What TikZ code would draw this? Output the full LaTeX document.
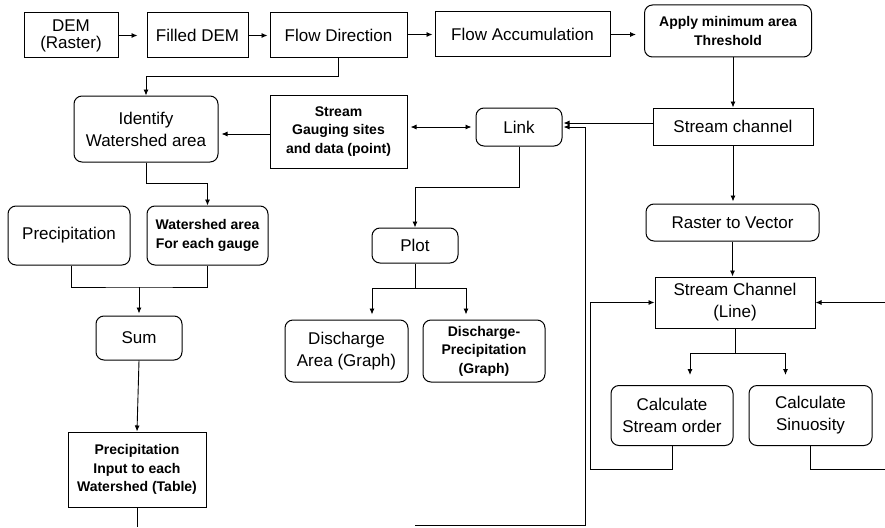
\documentclass[tikz,border=0pt]{standalone}
\usepackage{fontspec}
\setmainfont{Liberation Sans}
\usetikzlibrary{arrows.meta}

\begin{document}
\begin{tikzpicture}[x=1pt,y=-1pt,
  box/.style={draw, line width=1pt, inner sep=0pt, align=center,
    font=\fontsize{17}{22}\selectfont},
  rbox/.style={box, rounded corners=8pt},
  heavy/.style={font=\bfseries\fontsize{14}{18.5}\selectfont},
  link/.style={draw, line width=0.9pt},
  arr/.style={link, -{Latex[length=6pt,width=5pt]}},
  darr/.style={link, {Latex[length=6pt,width=5pt]}-{Latex[length=6pt,width=5pt]}}
]
\useasboundingbox (0,0) rectangle (885,527);

% top row
\node[box, minimum width=94pt, minimum height=45pt] (dem) at (71,35.5) {DEM\\[-5pt](Raster)};
\node[box, minimum width=101pt, minimum height=45pt] (filled) at (197.5,35.5) {Filled DEM};
\node[box, minimum width=137pt, minimum height=45pt] (flowdir) at (338.5,35.5) {Flow Direction};
\node[box, minimum width=175pt, minimum height=45pt] (flowacc) at (522.5,34.5) {Flow Accumulation};
\node[rbox, heavy, minimum width=167pt, minimum height=52pt] (apply) at (728,31) {Apply minimum area\\Threshold};

% second row
\node[rbox, minimum width=144pt, minimum height=66pt] (identify) at (146,129) {Identify\\Watershed area};
\node[box, heavy, minimum width=137pt, minimum height=73pt] (gauge) at (338.5,131.5) {Stream\\Gauging sites\\and data (point)};
\node[rbox, minimum width=86pt, minimum height=38pt] (lnk) at (519,127) {Link};
\node[box, minimum width=160pt, minimum height=37pt] (schan) at (733,126.5) {Stream channel};

% left branch
\node[rbox, minimum width=122pt, minimum height=59pt] (precip) at (69,235.5) {Precipitation};
\node[rbox, heavy, minimum width=121pt, minimum height=59pt] (wsarea) at (207.5,235.5) {Watershed area\\For each gauge};
\node[rbox, minimum width=86pt, minimum height=44pt] (sum) at (139,338) {Sum};
\node[box, heavy, minimum width=138pt, minimum height=75pt] (table) at (137,469.5) {Precipitation\\Input to each\\Watershed (Table)};

% middle branch
\node[rbox, minimum width=86pt, minimum height=35pt] (plot) at (415,245.5) {Plot};
\node[rbox, minimum width=123pt, minimum height=62pt] (darea) at (346.5,351) {Discharge\\Area (Graph)};
\node[rbox, heavy, minimum width=122pt, minimum height=62pt] (dprecip) at (484,351) {Discharge-\\Precipitation\\(Graph)};

% right branch
\node[rbox, minimum width=173pt, minimum height=37pt] (r2v) at (732.5,222.5) {Raster to Vector};
\node[box, minimum width=160pt, minimum height=51pt] (sline) at (735,302.5) {Stream Channel\\(Line)};
\node[rbox, minimum width=122pt, minimum height=60pt] (sorder) at (672,415.5) {Calculate\\Stream order};
\node[rbox, minimum width=123pt, minimum height=60pt] (sinu) at (810.5,415.5) {Calculate\\Sinuosity};

% junction points of the routed connectors
\coordinate (pj) at (415,288);
\coordinate (sj) at (139,287);
\coordinate (tb) at (137,527);
\coordinate (lb) at (415,525);
\coordinate (lc) at (585,525);
\coordinate (ol) at (590,469);
\coordinate (sr) at (885,469);
\coordinate (sr2) at (885,302.5);

% top row chain
\draw[arr, shorten >=9pt] (dem) -- (filled);
\draw[arr, shorten >=2pt] (filled) -- (flowdir);
\draw[arr, shorten >=2pt] (flowdir.east |- flowacc.west) -- (flowacc.west);
\draw[arr, shorten >=8pt] (flowacc.east) -- (flowacc.east -| apply.west);

% flow direction to watershed identification
\draw[arr] (flowdir.south) -- ++(0,18) -| (identify.north);
\draw[arr, shorten >=3pt] ([yshift=-2.5pt]gauge.west) -- ([yshift=-2.5pt]gauge.west -| identify.east);
\draw[darr, shorten <=3pt, shorten >=4pt] ([yshift=4.5pt]gauge.east) -- ([yshift=4.5pt]gauge.east -| lnk.west);

% stream channel and returning loop into Link
\draw[arr, shorten >=1pt] ([yshift=3.5pt]schan.west) -- ([yshift=3.5pt]schan.west -| lnk.east);
\draw[arr, shorten >=1pt] (lb) -- (lc) |- (lnk.east);
\draw[link] (table.south) -- (tb);

% Link to Plot and its outputs
\draw[arr] (lnk.south) -- ++(0,41) -| (plot.north);
\draw[link] (plot.south) -- (pj);
\draw[arr, shorten >=5pt] (pj) -| ([xshift=25.5pt]darea.north);
\draw[arr, shorten >=5pt] (pj) -| ([xshift=-18pt]dprecip.north);

% watershed area and precipitation summation
\draw[arr] (identify.south) -- ++(0,21) -| (wsarea.north);
\draw[link] ([xshift=2pt]precip.south) |- (sj) -| (wsarea.south);
\draw[arr, shorten >=2pt] (sj) -- (sum.north);
\draw[arr] (sum.south) -- (table.north);

% stream channel processing
\draw[arr] (apply.south -| schan.north) -- (schan.north);
\draw[arr, shorten >=2pt] (schan.south) -- (schan.south |- r2v.north);
\draw[arr] (r2v.south) -- (r2v.south |- sline.north);
\draw[link] (sline.south) -- ++(0,25) coordinate (cj);
\draw[arr, shorten >=10pt] (cj) -| ([xshift=18pt]sorder.north);
\draw[arr, shorten >=10pt] (cj) -| ([xshift=-25pt]sinu.north);
\draw[arr] (sorder.south) |- (ol) |- (sline.west);
\draw[link] (sinu.south) |- (sr);
\draw[arr] (sr2) -- (sline.east);
\end{tikzpicture}
\end{document}
